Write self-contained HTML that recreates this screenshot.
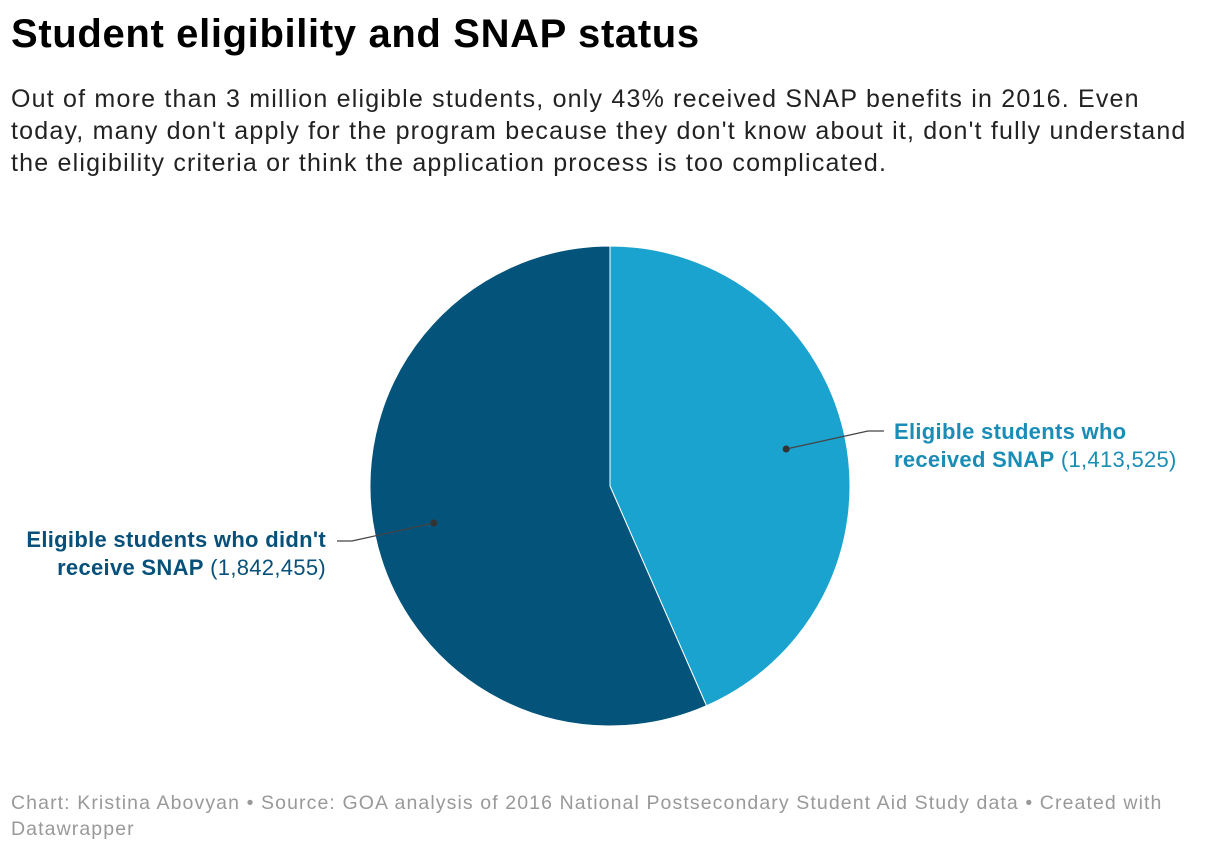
<!DOCTYPE html>
<html><head><meta charset="utf-8"><style>
body{margin:0;width:1220px;height:852px;background:#fff;font-family:"Liberation Sans",sans-serif;position:relative;overflow:hidden}
.t{position:absolute;left:11px;top:12px;font-size:40px;font-weight:bold;color:#000;letter-spacing:0.65px;white-space:nowrap}
.s{position:absolute;left:11px;top:83px;width:1210px;font-size:25px;line-height:32px;color:#222;letter-spacing:1.2px;white-space:nowrap}
.f{position:absolute;left:11px;top:790px;width:1200px;font-size:19.5px;line-height:26px;color:#999;letter-spacing:1.1px;white-space:nowrap}
.lab{position:absolute;font-size:22px;line-height:28px;letter-spacing:0.3px;white-space:nowrap}
.lab b{font-weight:bold}
</style></head><body>
<div class="t">Student eligibility and SNAP status</div>
<div class="s">Out of more than 3 million eligible students, only 43% received SNAP benefits in 2016. Even<br>today, many don't apply for the program because they don't know about it, don't fully understand<br>the eligibility criteria or think the application process is too complicated.</div>
<svg id="pie" width="1220" height="852" style="position:absolute;left:0;top:0"></svg>
<div class="lab" style="left:894px;top:418px;color:#1a8db6"><b>Eligible students who<br>received SNAP</b> (1,413,525)</div>
<div class="lab" style="right:894px;top:526px;text-align:right;color:#07507a"><b>Eligible students who didn't<br>receive SNAP</b> (1,842,455)</div>
<div class="f">Chart: Kristina Abovyan • Source: GOA analysis of 2016 National Postsecondary Student Aid Study data • Created with<br>Datawrapper</div>
<script>
const categories=["Eligible students who received SNAP","Eligible students who didn't receive SNAP"];
const values=[1413525,1842455];
const colors=["#1aa3cf","#03537a"];
const cx=610,cy=486,R=240;
const svg=document.getElementById('pie');const ns="http://www.w3.org/2000/svg";
const total=values.reduce((a,b)=>a+b,0);
let a0=0;
const pt=(a,r)=>[cx+r*Math.sin(a),cy-r*Math.cos(a)];
values.forEach((v,i)=>{
  const a1=a0+v/total*2*Math.PI;
  const p0=pt(a0,R),p1=pt(a1,R);
  const path=document.createElementNS(ns,'path');
  path.setAttribute('d',`M${cx},${cy}L${p0[0]},${p0[1]}A${R},${R} 0 ${a1-a0>Math.PI?1:0} 1 ${p1[0]},${p1[1]}Z`);
  path.setAttribute('fill',colors[i]);path.setAttribute('stroke','#fff');path.setAttribute('stroke-width','1');
  
  
  svg.appendChild(path);
  const m=(a0+a1)/2,d=pt(m,R*0.75);
  const right=Math.sin(m)>0;
  const ex=right?868:352, ey=d[1]+(right?-18:18), hx=right?884:337;
  const line=document.createElementNS(ns,'polyline');
  line.setAttribute('points',`${d[0]},${d[1]} ${ex},${ey} ${hx},${ey}`);
  line.setAttribute('fill','none');line.setAttribute('stroke','#444');line.setAttribute('stroke-width','1.3');
  
  
  svg.appendChild(line);
  const c=document.createElementNS(ns,'circle');
  c.setAttribute('cx',d[0]);c.setAttribute('cy',d[1]);c.setAttribute('r','3.5');c.setAttribute('fill','#333');
  
  
  svg.appendChild(c);
  a0=a1;
});
</script>
</body></html>
